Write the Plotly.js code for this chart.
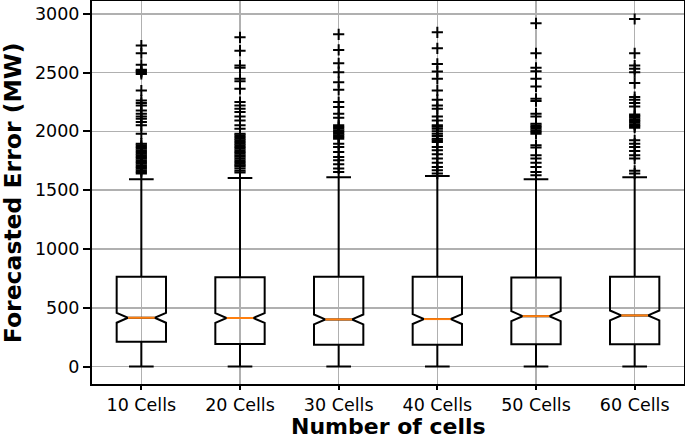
<!DOCTYPE html>
<html>
<head>
<meta charset="utf-8">
<script src="https://cdn.plot.ly/plotly-3.0.1.min.js"></script>
<style>html,body{margin:0;padding:0;background:#fff;}#chart{width:685px;height:439px;}</style>
</head>
<body>
<div id="chart"></div>
<script>
// ---- data ----
const categories = ["10 Cells", "20 Cells", "30 Cells", "40 Cells", "50 Cells", "60 Cells"];
const q1Values     = [212, 192, 186, 186, 189, 189];
const medianValues = [415, 413, 401, 404, 429, 435];
const q3Values     = [763, 760, 763, 763, 757, 763];
const lowerWhisker = [0, 0, 0, 0, 0, 0];
const upperWhisker = [1593, 1604, 1610, 1621, 1593, 1610];
const notchHalf    = [42, 42, 42, 42, 42, 42];

const outliers10 = [2729, 2664, 2565, 2523, 2512, 2503, 2488, 2347, 2263, 2240, 2220, 2178, 2150, 2127, 2107, 2079, 2051, 1980, 1895, 1881, 1867, 1853, 1839, 1824, 1810, 1796, 1782, 1768, 1754, 1740, 1726, 1711, 1697, 1683, 1669, 1655, 1641];
const outliers20 = [2799, 2686, 2559, 2540, 2446, 2426, 2361, 2249, 2220, 2192, 2164, 2127, 2093, 2051, 2022, 1980, 1966, 1952, 1938, 1924, 1910, 1895, 1881, 1867, 1853, 1839, 1825, 1811, 1797, 1783, 1768, 1755, 1740, 1725, 1712, 1700, 1684, 1665, 1650];
const outliers30 = [2825, 2692, 2579, 2503, 2418, 2353, 2249, 2206, 2150, 2116, 2051, 2036, 2022, 2008, 1994, 1980, 1966, 1952, 1938, 1895, 1867, 1825, 1782, 1754, 1720, 1684, 1655];
const outliers40 = [2842, 2706, 2573, 2508, 2446, 2347, 2268, 2220, 2192, 2127, 2093, 2051, 2040, 2022, 2000, 1980, 1960, 1938, 1925, 1910, 1867, 1839, 1805, 1768, 1732, 1697, 1669, 1641];
const outliers50 = [2918, 2664, 2540, 2511, 2446, 2381, 2277, 2257, 2150, 2127, 2065, 2050, 2036, 2022, 2008, 1995, 1980, 1881, 1862, 1797, 1768, 1732, 1697, 1655, 1627];
const outliers60 = [2955, 2664, 2559, 2531, 2503, 2410, 2291, 2268, 2240, 2212, 2144, 2130, 2116, 2101, 2087, 2073, 2059, 2045, 2031, 1924, 1895, 1867, 1833, 1797, 1768, 1664, 1641];
const outlierSets = [outliers10, outliers20, outliers30, outliers40, outliers50, outliers60];

const xTitle = "Number of cells";
const yTitle = "Forecasted Error (MW)";
const yTickVals = [0, 500, 1000, 1500, 2000, 2500, 3000];

// ---- build ----
const positions = categories.map((c, i) => i + 1);
const boxWidth = 0.5;
const notchW = 0.23;   // plotly: waist = box * (1 - 2*notchwidth)

const boxTrace = {
  type: "box",
  orientation: "v",
  x: positions,
  q1: q1Values,
  median: medianValues,
  q3: q3Values,
  lowerfence: lowerWhisker,
  upperfence: upperWhisker,
  notchspan: notchHalf,
  notched: true,
  notchwidth: notchW,
  width: boxWidth,
  whiskerwidth: 0.5,
  boxpoints: false,
  fillcolor: "rgba(255,255,255,0)",
  line: { color: "#000000", width: 2 },
  hoverinfo: "skip",
  showlegend: false
};

const ox = [], oy = [];
outlierSets.forEach((arr, i) => arr.forEach(v => { ox.push(positions[i]); oy.push(v); }));
const outlierTrace = {
  type: "scatter",
  mode: "markers",
  x: ox,
  y: oy,
  marker: { symbol: "cross-thin-open", size: 8, color: "#000000", line: { color: "#000000", width: 2 } },
  hoverinfo: "skip",
  showlegend: false
};

const halfWaist = boxWidth / 2 * (1 - 2 * notchW);
const medianShapes = positions.map((p, i) => ({
  type: "line", xref: "x", yref: "y", layer: "above",
  x0: p - halfWaist, x1: p + halfWaist, y0: medianValues[i], y1: medianValues[i],
  line: { color: "#ff7f0e", width: 2 }
}));

const fontFam = "DejaVu Sans, sans-serif";
const layout = {
  width: 685, height: 439,
  margin: { l: 92, r: 1, t: 1, b: 55 },
  paper_bgcolor: "#ffffff",
  plot_bgcolor: "#ffffff",
  showlegend: false,
  font: { family: fontFam, color: "#000000", size: 17.5 },
  shapes: medianShapes,
  annotations: [
    { text: "<b>" + xTitle + "</b>", xref: "paper", yref: "paper", x: 0.5, y: -0.111,
      xanchor: "center", yanchor: "middle", showarrow: false, borderpad: 0,
      font: { family: fontFam, size: 22, color: "#000000" } },
    { text: "<b>" + yTitle + "</b>", xref: "paper", yref: "paper", x: -0.134, y: 0.5,
      xanchor: "center", yanchor: "middle", showarrow: false, textangle: -90, borderpad: 0,
      font: { family: fontFam, size: 23.5, color: "#000000" } }
  ],
  xaxis: {
    range: [0.5, 6.5],
    tickmode: "array",
    tickvals: positions,
    ticktext: categories,
    showgrid: true, gridcolor: "#b0b0b0", gridwidth: 1.6,
    zeroline: false,
    showline: true, mirror: true, linecolor: "#000000", linewidth: 2,
    ticks: "outside", ticklen: 4, tickwidth: 2, tickcolor: "#000000",
    tickfont: { family: fontFam, size: 17.5, color: "#000000" },
    automargin: false
  },
  yaxis: {
    range: [-148, 3108],
    tickmode: "array",
    tickvals: yTickVals,
    ticktext: yTickVals.map(String),
    showgrid: true, gridcolor: "#b0b0b0", gridwidth: 1.6,
    zeroline: false,
    showline: true, mirror: true, linecolor: "#000000", linewidth: 2,
    ticks: "outside", ticklen: 7, tickwidth: 2, tickcolor: "#000000",
    tickfont: { family: fontFam, size: 17.5, color: "#000000" },
    automargin: false
  }
};

Plotly.newPlot("chart", [boxTrace, outlierTrace], layout, { staticPlot: true, displayModeBar: false });
</script>
</body>
</html>
